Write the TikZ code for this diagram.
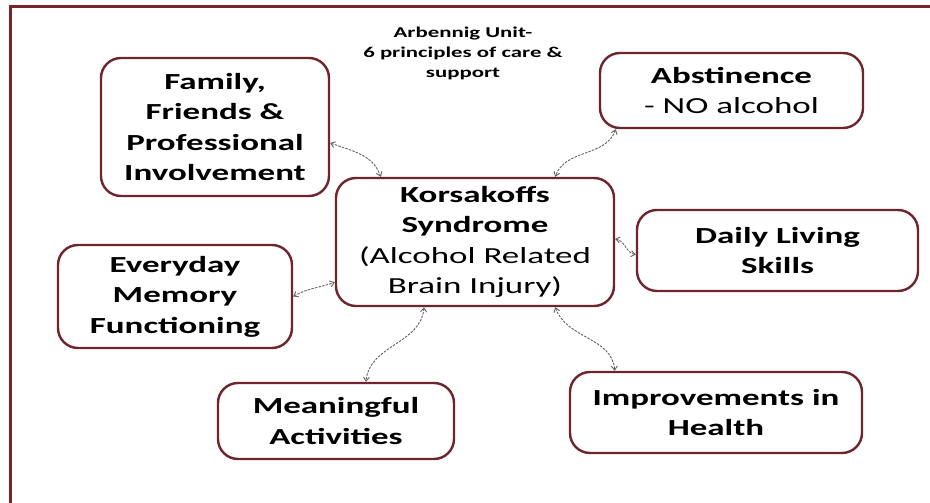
\documentclass[tikz,border=0pt]{standalone}
\usepackage{fontspec}
\setmainfont{Carlito}[FakeStretch=1.52]
\usetikzlibrary{arrows.meta}
\definecolor{boxred}{RGB}{112,36,44}
\definecolor{framered}{RGB}{122,36,42}
\definecolor{linkgray}{RGB}{100,100,100}
\begin{document}
\begin{tikzpicture}[x=1pt,y=1pt,
  box/.style={draw=boxred, line width=2.4pt, rounded corners=20pt, fill=white,
    align=center, inner sep=0pt, text=black,
    font=\bfseries\fontsize{23}{30.5}\selectfont},
  link/.style={draw=linkgray, line width=0.9pt, dash pattern=on 2.5pt off 1.2pt,
    {Straight Barb[length=4pt,width=6pt]}-{Straight Barb[length=4pt,width=6pt]}}]
\useasboundingbox (0,0) rectangle (930,-503);
\fill[white] (0,0) rectangle (930,-503);
\draw[framered, line width=3pt] (10,-503) -- (10,-7) -- (930,-7);

\node[font=\bfseries\fontsize{15}{20}\selectfont, align=center] (title) at (463,-53)
  {Arbennig Unit-\\6 principles of care \&\\support};

\node[box, minimum width=228pt, minimum height=138pt] (fam) at (215,-127)
  {Family,\\Friends \&\\Professional\\Involvement};
\node[box, minimum width=263pt, minimum height=75pt] (abs) at (731.5,-90.5)
  {Abstinence\\\mdseries - NO alcohol};
\node[box, minimum width=278pt, minimum height=128pt] (kor) at (475,-242)
  {Korsakoffs\\Syndrome\\\mdseries (Alcohol Related\\\mdseries Brain Injury)};
\node[box, minimum width=281pt, minimum height=81pt] (day) at (777.5,-250.5)
  {Daily Living\\Skills};
\node[box, minimum width=234pt, minimum height=103pt] (eve) at (175,-296.5)
  {Everyday\\Memory\\Functioning};
\node[box, minimum width=236pt, minimum height=76pt] (mea) at (336,-421)
  {Meaningful\\Activities};
\node[box, minimum width=292pt, minimum height=81pt] (imp) at (716,-412.5)
  {Improvements in\\Health};

\draw[link] ([yshift=-16pt]fam.east) to[out=-20,in=110] ([xshift=46pt]kor.north west);
\draw[link] ([xshift=17pt]abs.south west) to[out=-110,in=70] ([xshift=-60pt]kor.north east);
\draw[link] ([yshift=-4pt]day.west) to[out=170,in=-10] ([yshift=3pt]kor.east);
\draw[link] (eve.east) to[out=30,in=200] ([yshift=25pt]kor.south west);
\draw[link] ([xshift=-51pt]kor.south) to[out=-95,in=85] ([xshift=30pt]mea.north);
\draw[link] ([xshift=-60pt]kor.south east) to[out=-70,in=95] ([xshift=46pt]imp.north west);
\end{tikzpicture}
\end{document}
